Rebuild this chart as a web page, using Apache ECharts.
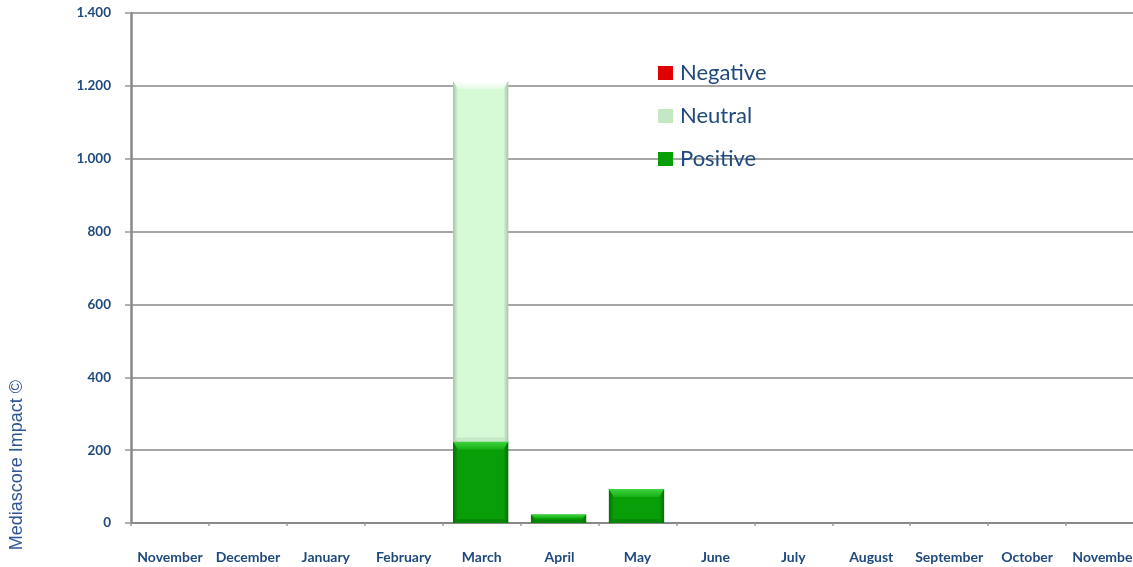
<!DOCTYPE html>
<html>
<head>
<meta charset="utf-8">
<script src="https://cdn.jsdelivr.net/npm/echarts@6/dist/echarts.min.js"></script>
<style>
  html, body { margin: 0; padding: 0; background: #ffffff; }
  #chart { width: 1133px; height: 567px; }
</style>
</head>
<body>
<div id="chart"></div>
<script>
// Monthly media impact, split by tone
const months = ['November', 'December', 'January', 'February', 'March', 'April', 'May',
                'June', 'July', 'August', 'September', 'October', 'November'];
const negativeValues = [0, 0, 0, 0, 0, 0, 0, 0, 0, 0, 0, 0, 0];
const neutralValues  = [0, 0, 0, 0, 989, 0, 0, 0, 0, 0, 0, 0, 0];
const positiveValues = [0, 0, 0, 0, 224, 23, 93, 0, 0, 0, 0, 0, 0];
const yTicks = [0, 200, 400, 600, 800, 1000, 1200, 1400];

const labelBlue = '#1F497D';
const fontFamily = 'Lato, "Open Sans", sans-serif';

// stacking order, bottom to top
const stackOrder = [positiveValues, neutralValues, negativeValues];

const palettes = {
  Positive: { body: '#089e08', edge: '#046e04', top: '#3fd43f', topIn: '#16b016', bottom: '#067a06' },
  Neutral:  { body: '#d6f9d6', edge: '#a6c4a6', top: '#ffffff', topIn: '#e4fbe4', bottom: '#bcdcbc' },
  Negative: { body: '#e00000', edge: '#a00000', top: '#ff5050', topIn: '#ee1010', bottom: '#b00000' }
};

function hGrad(edge, mid) {
  return {
    type: 'linear', x: 0, y: 0, x2: 1, y2: 0,
    colorStops: [
      { offset: 0, color: edge },
      { offset: 0.09, color: mid },
      { offset: 0.91, color: mid },
      { offset: 1, color: edge }
    ]
  };
}

// Beveled stacked bar built from the axis scales
function bevelRenderer(level, name) {
  const pal = palettes[name];
  return function (params, api) {
    const idx = params.dataIndex;
    const value = api.value(1);
    if (!value) return null;
    let base = 0;
    for (let i = 0; i < level; i++) base += stackOrder[i][idx];
    const pBase = api.coord([idx, base]);
    const pTop = api.coord([idx, base + value]);
    const w = api.size([1, 0])[0] * 0.71;
    const x0 = pBase[0] - w / 2 - 1;
    const x1 = x0 + w;
    const yb = pBase[1];
    const yt = pTop[1];
    const h = yb - yt;
    const bv = Math.min(8, h / 2.5);
    const side = Math.min(5, h / 2.5);
    return {
      type: 'group',
      children: [
        { type: 'rect', shape: { x: x0, y: yt, width: w, height: h },
          style: { fill: hGrad(pal.edge, pal.body) } },
        { type: 'polygon',
          shape: { points: [[x0, yt], [x1, yt], [x1 - side, yt + bv], [x0 + side, yt + bv]] },
          style: { fill: { type: 'linear', x: 0, y: 0, x2: 0, y2: 1,
                           colorStops: [{ offset: 0, color: pal.top }, { offset: 1, color: pal.topIn }] } } },
        { type: 'polygon',
          shape: { points: [[x0, yb], [x1, yb], [x1 - side, yb - Math.min(4, bv)], [x0 + side, yb - Math.min(4, bv)]] },
          style: { fill: pal.bottom, opacity: 0.6 } }
      ]
    };
  };
}

function toPairs(arr) { return arr.map(function (v, i) { return [i, v]; }); }

const chart = echarts.init(document.getElementById('chart'), null, { renderer: 'canvas' });

chart.setOption({
  animation: false,
  backgroundColor: '#ffffff',
  grid: {
    left: 131, right: -11, top: 13, bottom: 44,
    containLabel: false,
    outerBoundsMode: 'none'
  },
  legend: {
    orient: 'vertical',
    left: 658,
    top: 62,
    padding: 0,
    itemWidth: 15,
    itemHeight: 14,
    itemGap: 21,
    icon: 'rect',
    data: ['Negative', 'Neutral', 'Positive'],
    textStyle: { color: labelBlue, fontSize: 22, fontFamily: fontFamily, padding: [0, 0, 0, 2] }
  },
  graphic: [{
    type: 'text',
    left: 8,
    top: 380,
    rotation: Math.PI / 2,
    style: {
      text: 'Mediascore Impact ©',
      fill: '#2F5597',
      font: '18px "Liberation Sans", Arial, sans-serif'
    }
  }],
  xAxis: {
    type: 'category',
    data: months,
    axisLine: { show: true, lineStyle: { color: '#888888', width: 2 } },
    axisTick: { show: true, alignWithLabel: false, length: 3, inside: false, lineStyle: { color: '#999999', width: 1.5 } },
    axisLabel: {
      interval: 0,
      margin: 27,
      color: labelBlue,
      fontWeight: 'bold',
      fontSize: 14,
      fontFamily: fontFamily
    },
    splitLine: { show: false }
  },
  yAxis: {
    type: 'value',
    min: 0,
    max: 1400,
    interval: 200,
    axisLine: { show: true, lineStyle: { color: '#888888', width: 2.5 } },
    axisTick: { show: true, length: 6, lineStyle: { color: '#999999', width: 1.5 } },
    axisLabel: {
      margin: 20,
      color: labelBlue,
      fontWeight: 'bold',
      fontSize: 13.5,
      fontFamily: fontFamily,
      formatter: function (v) {
        return yTicks.indexOf(v) >= 0 ? String(v).replace(/\B(?=(\d{3})+(?!\d))/g, '.') : '';
      }
    },
    splitLine: { show: true, lineStyle: { color: '#a6a6a6', width: 2 } }
  },
  series: [
    {
      name: 'Positive',
      type: 'custom',
      renderItem: bevelRenderer(0, 'Positive'),
      encode: { x: 0, y: 1 },
      data: toPairs(positiveValues),
      itemStyle: { color: palettes.Positive.body }
    },
    {
      name: 'Neutral',
      type: 'custom',
      renderItem: bevelRenderer(1, 'Neutral'),
      encode: { x: 0, y: 1 },
      data: toPairs(neutralValues),
      itemStyle: { color: '#c4e8c4' }
    },
    {
      name: 'Negative',
      type: 'custom',
      renderItem: bevelRenderer(2, 'Negative'),
      encode: { x: 0, y: 1 },
      data: toPairs(negativeValues),
      itemStyle: { color: palettes.Negative.body }
    }
  ]
});
</script>
</body>
</html>
